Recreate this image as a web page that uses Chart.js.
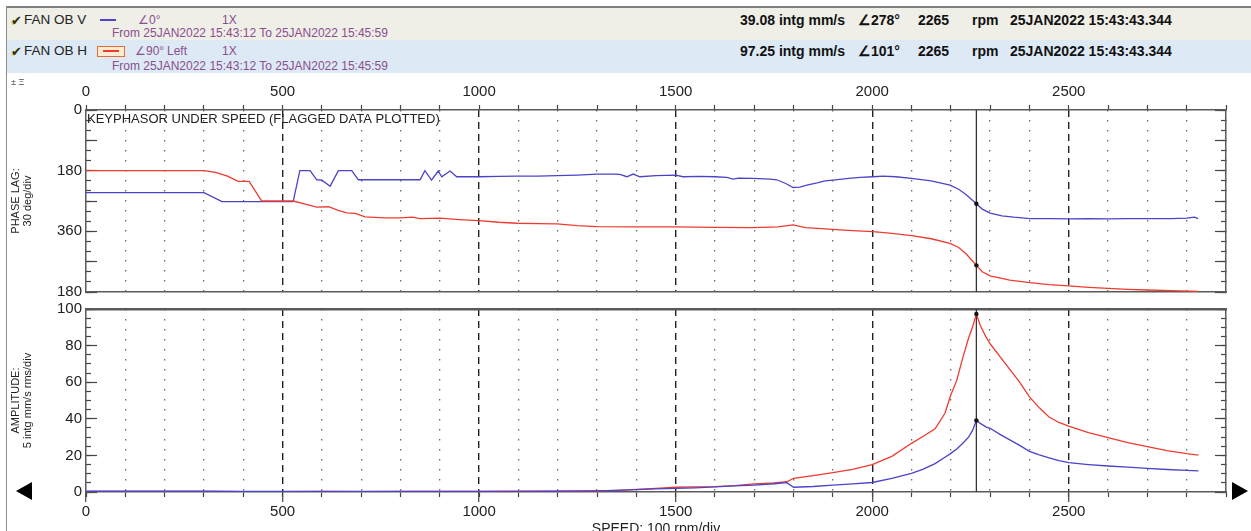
<!DOCTYPE html>
<html>
<head>
<meta charset="utf-8">
<script src="https://cdn.jsdelivr.net/npm/chart.js@4.4.1/dist/chart.umd.min.js"></script>
<style>
  html, body { margin: 0; padding: 0; background: #fff; overflow: hidden; }
  body { width: 1251px; height: 531px; position: relative; font-family: "Liberation Sans", Arial, sans-serif; }
  .abs { position: absolute; white-space: nowrap; line-height: 1; transform: translateY(-50%); }
  .bar { position: absolute; }
  .name { font-size: 13.5px; color: #222; }
  .info { font-size: 12px; color: #8a4f8e; }
  .val { font-size: 14px; font-weight: bold; color: #111; }
  .chk { font-size: 13px; color: #2e2e10; text-shadow: -1px 1px 0 #d8d060; }
  canvas { position: absolute; left: 0; top: 0; }
</style>
</head>
<body>
<div class="bar" style="left:6px;top:6px;width:1245px;height:2px;background:#808080"></div>
<div class="bar" style="left:6px;top:6px;width:1px;height:525px;background:#8c8c8c"></div>
<div class="bar" style="left:7px;top:8px;width:1244px;height:32px;background:#efeee7"></div>
<div class="bar" style="left:7px;top:40px;width:1244px;height:33px;background:#dde9f5"></div>

<span class="abs chk" style="left:11px;top:20px">&#10004;</span>
<span class="abs name" style="left:24px;top:20px">FAN OB V</span>
<div class="bar" style="left:100px;top:19px;width:16px;height:2px;background:#4b44c8"></div>
<span class="abs info" style="left:138px;top:20px">&#8736;0&#176;</span>
<span class="abs info" style="left:222px;top:20px">1X</span>
<span class="abs info" style="left:112px;top:33px">From 25JAN2022 15:43:12 To 25JAN2022 15:45:59</span>
<span class="abs val" style="left:740px;top:20px">39.08 intg mm/s</span>
<span class="abs val" style="left:858px;top:20px">&#8736;278&#176;</span>
<span class="abs val" style="left:918px;top:20px">2265</span>
<span class="abs val" style="left:972px;top:20px">rpm</span>
<span class="abs val" style="left:1010px;top:20px">25JAN2022 15:43:43.344</span>

<span class="abs chk" style="left:11px;top:51px">&#10004;</span>
<span class="abs name" style="left:24px;top:51px">FAN OB H</span>
<div class="bar" style="left:97px;top:46px;width:26px;height:9px;border:1.5px solid #ea6a3a;background:#fdeccf"></div>
<div class="bar" style="left:103px;top:50px;width:16px;height:2px;background:#ee3b30"></div>
<span class="abs info" style="left:135px;top:51px">&#8736;90&#176;</span>
<span class="abs info" style="left:167px;top:51px">Left</span>
<span class="abs info" style="left:222px;top:51px">1X</span>
<span class="abs info" style="left:112px;top:66px">From 25JAN2022 15:43:12 To 25JAN2022 15:45:59</span>
<span class="abs val" style="left:740px;top:51px">97.25 intg mm/s</span>
<span class="abs val" style="left:858px;top:51px">&#8736;101&#176;</span>
<span class="abs val" style="left:918px;top:51px">2265</span>
<span class="abs val" style="left:972px;top:51px">rpm</span>
<span class="abs val" style="left:1010px;top:51px">25JAN2022 15:43:43.344</span>

<span class="abs" style="left:11px;top:82px;font-size:9px;color:#555">&#177; &#926;</span>

<div class="bar" style="left:16px;top:482px;width:0;height:0;border-top:9px solid transparent;border-bottom:9px solid transparent;border-right:16px solid #000"></div>
<div class="bar" style="left:1232px;top:482px;width:0;height:0;border-top:9px solid transparent;border-bottom:9px solid transparent;border-left:16px solid #000"></div>

<canvas id="phase" width="1251" height="531"></canvas>
<canvas id="amp" width="1251" height="531"></canvas>

<script>
// speed range and cursor
const speedMax = 2900;
const cursorRpm = [2265];
const cursorPhase = [278, 461];     // V, H at cursor
const cursorAmp = [39.08, 97.25];   // V, H at cursor

// phase lag, FAN OB V (blue)
const phaseVRpm = [0, 300, 346, 527, 544, 570, 587, 600, 621, 642, 676, 693, 850, 862, 879, 896, 905, 926, 943, 1000,
  1050, 1096, 1150, 1198, 1250, 1300, 1340, 1358, 1376, 1392, 1409, 1450, 1500, 1519, 1560, 1600, 1630, 1646, 1660, 1697,
  1740, 1757, 1780, 1799, 1816, 1834, 1860, 1880, 1900, 1940, 1970, 2002, 2028, 2060, 2100, 2150, 2198, 2220, 2240, 2255,
  2265, 2280, 2300, 2330, 2360, 2401, 2450, 2500, 2550, 2600, 2650, 2700, 2760, 2800, 2820, 2829];
const phaseVDeg = [245, 245, 272, 272, 180, 180, 207, 208, 226, 180, 180, 207, 207, 180, 208, 181, 198, 181, 198, 198,
  197, 196, 196, 195, 193, 190, 190, 191, 198, 190, 198, 195, 193, 198, 197, 198, 200, 205, 202, 203,
  205, 207, 218, 230, 229, 223, 216, 210, 208, 203, 200, 198, 196, 198, 203, 210, 223, 235, 252, 268,
  278, 294, 306, 314, 318, 322, 322, 323, 322, 323, 322, 322, 322, 321, 318, 322];

// phase lag, FAN OB H (red)
const phaseHRpm = [0, 300, 330, 360, 387, 415, 447, 527, 560, 587, 617, 640, 663, 685, 710, 760, 800, 830, 850, 900,
  950, 1000, 1050, 1096, 1150, 1198, 1250, 1300, 1400, 1500, 1600, 1697, 1760, 1785, 1799, 1830, 1900, 1950, 2002, 2050,
  2100, 2150, 2198, 2220, 2240, 2255, 2265, 2280, 2300, 2350, 2401, 2450, 2500, 2550, 2600, 2650, 2701, 2760, 2829];
const phaseHDeg = [180, 180, 185, 196, 212, 212, 270, 270, 280, 288, 287, 297, 305, 307, 317, 320, 320, 318, 322, 321,
  325, 328, 333, 336, 337, 338, 343, 346, 347, 347, 348, 349, 347, 343, 341, 349, 354, 358, 361, 366,
  373, 382, 396, 408, 428, 448, 461, 480, 492, 505, 512, 518, 522, 526, 529, 532, 534, 536, 538];

// amplitude (intg mm/s), both channels
const ampRpm = [0, 100, 200, 300, 400, 500, 600, 700, 800, 900, 1000, 1100, 1200, 1300, 1350, 1400, 1450, 1500, 1550, 1600,
  1650, 1700, 1750, 1783, 1800, 1850, 1900, 1950, 2000, 2050, 2100, 2130, 2160, 2185, 2200, 2215, 2230, 2245, 2255, 2265,
  2275, 2290, 2300, 2325, 2350, 2375, 2400, 2425, 2450, 2475, 2500, 2550, 2600, 2650, 2700, 2750, 2800, 2830];
const ampV = [0.4, 0.4, 0.4, 0.4, 0.3, 0.3, 0.3, 0.3, 0.3, 0.3, 0.3, 0.3, 0.4, 0.6, 0.9, 1.3, 1.7, 2.0, 2.3, 2.8,
  3.3, 3.8, 4.5, 5.1, 2.6, 3.0, 3.8, 4.4, 5.2, 7.5, 10.2, 12.5, 15.5, 19, 21.1, 23.5, 26.5, 30, 33.5, 39.08,
  37.5, 35.5, 34.8, 31.5, 28.5, 25.5, 22.2, 20.3, 18.7, 17.2, 16.0, 15.0, 14.2, 13.6, 12.9, 12.3, 11.8, 11.5];
const ampH = [0.3, 0.3, 0.3, 0.3, 0.2, 0.2, 0.3, 0.2, 0.3, 0.3, 0.3, 0.4, 0.4, 0.6, 0.9, 1.4, 2.0, 2.6, 2.8, 2.9,
  3.5, 4.4, 5.0, 5.6, 7.5, 9.0, 10.6, 12.4, 15.0, 19.5, 26.6, 30.5, 34.5, 43, 53, 61, 73, 84, 90, 97.25,
  91, 84.5, 81, 74, 67, 60, 52, 46, 41, 38, 36, 32.5, 29.7, 27.0, 24.8, 22.6, 21.0, 20.2];

const BLUE = '#4b44c8';
const RED = '#ee3b30';
const NARROW = "'Liberation Sans Narrow', 'Liberation Sans', Arial, sans-serif";
const CLEAR = 'rgba(0,0,0,0)';

function pts(xs, ys) {
  return xs.map((x, i) => ({ x: x, y: ys[i] }));
}

function line(data, color, order) {
  return { data: data, borderColor: color, borderWidth: 1.3, pointRadius: 0, tension: 0, order: order };
}

// an axis that only draws tick marks (or grid lines)
function aux(pos, min, max, step, opts) {
  const o = opts || {};
  const vertical = pos === 'left' || pos === 'right';
  return {
    type: 'linear', position: pos, min: min, max: max, reverse: !!o.reverse, weight: 0,
    ticks: { display: false, stepSize: step, autoSkip: false },
    grid: {
      drawOnChartArea: !!o.lines, drawTicks: o.tickLength !== undefined,
      tickLength: o.tickLength || 0, tickColor: o.tickColor || '#444', tickWidth: 1.2,
      color: o.color || '#444', lineWidth: o.lineWidth || 1
    },
    border: { display: !!o.border, color: '#5a5a5a', width: o.borderWidth || 1.5, dash: o.dash || [] },
    afterFit: s => { if (vertical) s.width = 0; else s.height = 0; }
  };
}

// grid line colours: dashed every 500 rpm, dotted every 100 rpm in between
const isMajor = ctx => ctx.tick && ctx.tick.value % 500 === 0;
const dashColor = ctx => (isMajor(ctx) && ctx.tick.value > 0) ? '#222' : CLEAR;
const dotColor = ctx => (ctx.tick && !isMajor(ctx) && ctx.tick.value < speedMax) ? '#6a6a6a' : CLEAR;
const majorTick = ctx => isMajor(ctx) ? '#444' : CLEAR;

function speedAxis(pos, extra) {
  return Object.assign({
    type: 'linear', position: pos, min: 0, max: speedMax, weight: 1,
    ticks: {
      stepSize: 100, autoSkip: false, maxRotation: 0, color: '#222', padding: 4,
      font: { family: NARROW, size: 15 },
      callback: v => (v % 500 === 0 ? String(v) : '')
    },
    grid: { drawOnChartArea: false, tickLength: 5, tickColor: '#444', tickWidth: 1.2 },
    border: { display: true, color: '#5a5a5a', width: 1.5 }
  }, extra);
}

function levelAxis(min, max, step, label, title, reverse) {
  return {
    type: 'linear', position: 'left', min: min, max: max, reverse: reverse, weight: 1,
    ticks: { stepSize: step, autoSkip: false, color: '#222', padding: 9, font: { family: NARROW, size: 15 }, callback: label },
    grid: { drawOnChartArea: false, tickLength: -5, tickColor: '#444', tickWidth: 1.2 },
    border: { display: true, color: '#5a5a5a', width: 1.5 },
    title: { display: true, text: title, color: '#222', font: { family: NARROW, size: 11, lineHeight: 1.1 }, padding: { top: 10, bottom: 0 } },
    afterFit: s => { s.width = 86; }
  };
}

const common = {
  responsive: false,
  animation: false,
  events: [],
  plugins: { legend: { display: false }, tooltip: { enabled: false } }
};

new Chart(document.getElementById('phase'), {
  type: 'line',
  data: {
    datasets: [
      { data: cursorPhase.map(v => ({ x: cursorRpm[0], y: v })), showLine: false, pointRadius: 2.2, pointBackgroundColor: '#111', pointBorderWidth: 0, order: 0 },
      line(pts(phaseHRpm, phaseHDeg), RED, 1),
      line(pts(phaseVRpm, phaseVDeg), BLUE, 2),
      line([{ x: cursorRpm[0], y: 0 }, { x: cursorRpm[0], y: 540 }], '#333', 3)
    ]
  },
  options: Object.assign({}, common, {
    layout: { padding: { top: 75, left: 0, right: 25, bottom: 239 } },
    scales: {
      x: speedAxis('top', { afterFit: s => { s.height = 35; } }),
      xDash: aux('top', 0, speedMax, 100, { lines: true, color: dashColor, lineWidth: 1.4, dash: [7, 5] }),
      xDot: aux('top', 0, speedMax, 100, { lines: true, color: dotColor, lineWidth: 1.3, dash: [1.4, 8.6] }),
      xB: aux('bottom', 0, speedMax, 100, { border: true }),
      y: levelAxis(0, 540, 30, v => (v % 180 === 0 ? String(v > 360 ? v - 360 : v) : ''), ['PHASE LAG:', '30 deg/div'], true),
      yMaj: aux('left', 0, 540, 90, { tickLength: -11, reverse: true }),
      yR: aux('right', 0, 540, 30, { tickLength: -5, reverse: true, border: true }),
      yRMaj: aux('right', 0, 540, 90, { tickLength: -11, reverse: true })
    }
  }),
  plugins: [{
    id: 'caption',
    afterDraw(chart) {
      const ctx = chart.ctx;
      ctx.save();
      ctx.font = '13px "Liberation Sans", Arial, sans-serif';
      ctx.fillStyle = '#222';
      ctx.textBaseline = 'middle';
      ctx.fillText('KEYPHASOR UNDER SPEED (FLAGGED DATA PLOTTED)', chart.chartArea.left + 1, chart.chartArea.top + 9);
      ctx.restore();
    }
  }]
});

new Chart(document.getElementById('amp'), {
  type: 'line',
  data: {
    datasets: [
      { data: cursorAmp.map(v => ({ x: cursorRpm[0], y: v })), showLine: false, pointRadius: 2.2, pointBackgroundColor: '#111', pointBorderWidth: 0, order: 0 },
      line(pts(ampRpm, ampH), RED, 2),
      line(pts(ampRpm, ampV), BLUE, 1),
      line([{ x: cursorRpm[0], y: 0 }, { x: cursorRpm[0], y: 100 }], '#333', 3)
    ]
  },
  options: Object.assign({}, common, {
    layout: { padding: { top: 309, left: 0, right: 25, bottom: 0 } },
    scales: {
      x: speedAxis('bottom', {
        ticks: {
          stepSize: 100, autoSkip: false, maxRotation: 0, color: '#222', padding: 6,
          font: { family: NARROW, size: 15 },
          callback: v => (v % 500 === 0 ? String(v) : '')
        },
        title: { display: true, text: 'SPEED: 100 rpm/div', color: '#222', font: { family: NARROW, size: 14, lineHeight: 1 }, padding: { top: 0, bottom: -5 } },
        afterFit: s => { s.height = 39; }
      }),
      xDash: aux('bottom', 0, speedMax, 100, { lines: true, color: dashColor, lineWidth: 1.4, dash: [7, 5], tickLength: 10, tickColor: majorTick }),
      xDot: aux('bottom', 0, speedMax, 100, { lines: true, color: dotColor, lineWidth: 1.3, dash: [1.4, 8.6] }),
      xT: aux('top', 0, speedMax, 100, { border: true, borderWidth: 2.5 }),
      y: levelAxis(0, 100, 5, v => (v % 20 === 0 ? String(v) : ''), ['AMPLITUDE:', '5 intg mm/s rms/div'], false),
      yMaj: aux('left', 0, 100, 20, { tickLength: -11 }),
      yR: aux('right', 0, 100, 5, { tickLength: -5, border: true }),
      yRMaj: aux('right', 0, 100, 20, { tickLength: -11 })
    }
  })
});
</script>
</body>
</html>
